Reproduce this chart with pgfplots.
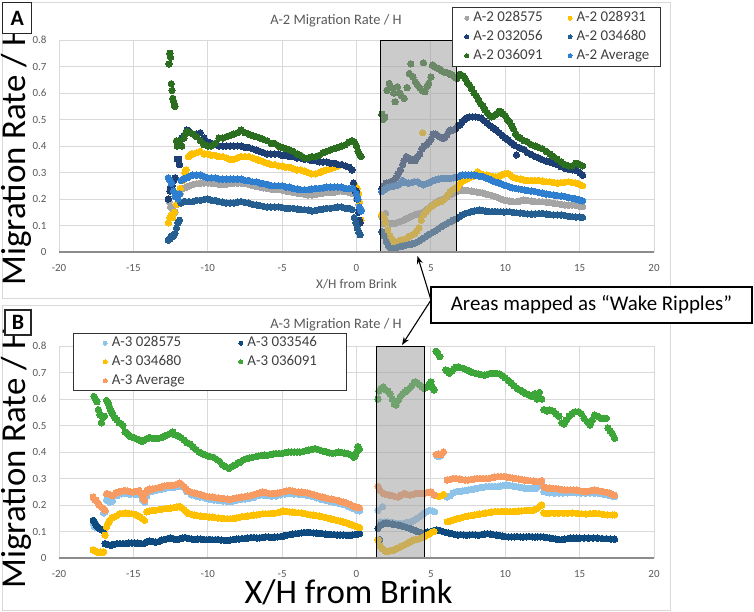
\documentclass[border=0pt]{standalone}
\usepackage{pgfplots}
\pgfplotsset{compat=1.18}
\usetikzlibrary{arrows.meta}
\usepackage{fontspec}
\setmainfont{Carlito}
\definecolor{tickgray}{HTML}{595959}
\definecolor{gridgray}{HTML}{D9D9D9}
\definecolor{legtext}{HTML}{404040}
\definecolor{cGray}{HTML}{A5A5A5}
\definecolor{cGold}{HTML}{FFC000}
\definecolor{cNavy}{HTML}{1E3F73}
\definecolor{cMed}{HTML}{255E91}
\definecolor{cGreen}{HTML}{2C6E20}
\definecolor{cAvg}{HTML}{2F7FD0}
\definecolor{dLt}{HTML}{8FC4EA}
\definecolor{dNavy}{HTML}{0D4A7F}
\definecolor{dGold}{HTML}{FFC000}
\definecolor{dGreen}{HTML}{3DA639}
\definecolor{dOrange}{HTML}{F79B62}
\definecolor{boxgray}{HTML}{A0A0A0}
\pgfplotsset{
  ser/.style={only marks, mark=*, mark size=3.2bp, color=#1, mark options={fill=#1, draw=#1, line width=0pt}},
  panel/.style={
    scale only axis, width=595bp, height=212bp,
    xmin=-20, xmax=20, ymin=0, ymax=0.8,
    xtick={-20,-15,-10,-5,0,5,10,15,20},
    ytick={0,0.1,0.2,0.3,0.4,0.5,0.6,0.7,0.8},
    grid=major, major grid style={draw=gridgray, line width=0.8bp},
    axis line style={draw=none}, major tick length=0pt, tick style={draw=none},
    clip=false, clip marker paths=true,
    ticklabel style={font=\fontsize{11}{13}\selectfont, text=tickgray},
    xticklabel style={anchor=north, text height=7bp, inner sep=0pt, yshift=-12bp},
    yticklabel style={anchor=east, inner sep=0pt, xshift=-12.3bp},
    /pgf/number format/assume math mode=true,
    legend cell align=left,
    legend columns=2,
    legend image code/.code={\path (-9bp,0bp); \draw[##1, mark size=2bp] plot coordinates {(0bp,0bp)};},
  },
}
\begin{document}
\begin{tikzpicture}
\useasboundingbox (0,0) rectangle (754bp,-612bp);
\draw[gridgray, line width=0.8bp] (2bp,-2.5bp) rectangle (670bp,-298bp);
\draw[gridgray, line width=0.8bp] (2bp,-305bp) rectangle (670bp,-610bp);

% ---------------- Panel A ----------------
\begin{axis}[panel, at={(59bp,-252bp)}, anchor=south west,
  legend style={at={(0.6605,1.157)}, anchor=north west, draw=black!80, line width=0.8bp, fill=white, text=legtext, font=\fontsize{15}{18}\selectfont, inner xsep=5bp, inner ysep=2bp, column sep=3bp, row sep=0.5bp, nodes={inner sep=1.5bp, text height=11.2bp, text depth=4bp}}]
% A-2 028575
\addplot[ser=cGray] coordinates {
(-12.6,0.19)(-12.5,0.17)(-12.35,0.16)(-12.2,0.15)(-12.05,0.18)(-11.85,0.22)(-11.65,0.24)(-11.4,0.245)(-11.25,0.25)(-11.0,0.255)(-10.75,0.258)(-10.5,0.26)(-10.25,0.26)(-10.0,0.26)(-9.75,0.26)(-9.5,0.258)(-9.25,0.255)(-9.0,0.255)(-8.75,0.255)(-8.5,0.258)(-8.25,0.26)(-8.0,0.26)(-7.75,0.26)(-7.5,0.258)(-7.25,0.255)(-7.0,0.25)(-6.75,0.248)(-6.5,0.245)(-6.25,0.242)(-6.0,0.24)(-5.75,0.237)(-5.5,0.235)(-5.25,0.235)(-5.0,0.233)(-4.75,0.23)(-4.5,0.228)(-4.25,0.225)(-4.0,0.222)(-3.75,0.22)(-3.5,0.218)(-3.25,0.215)(-3.0,0.215)(-2.75,0.217)(-2.5,0.22)(-2.25,0.222)(-2.0,0.225)(-1.75,0.225)(-1.5,0.225)(-1.25,0.228)(-1.0,0.23)(-0.75,0.228)(-0.5,0.225)(-0.25,0.22)(0.0,0.20)(0.15,0.18)(0.3,0.16)
(1.7,0.133)(1.8,0.108)(1.95,0.146)(2.1,0.11)(2.3,0.108)(2.5,0.108)(2.7,0.11)(2.9,0.114)(3.1,0.118)(3.3,0.124)(3.5,0.13)(3.7,0.135)(3.9,0.14)(4.1,0.143)(4.3,0.146)(4.5,0.152)(4.7,0.16)(4.9,0.168)(5.1,0.178)(5.3,0.186)(5.5,0.192)(5.7,0.197)(5.9,0.20)(6.1,0.208)(6.3,0.216)(6.5,0.222)(6.7,0.228)(6.9,0.232)(7.1,0.234)(7.3,0.233)(7.5,0.232)(7.7,0.23)(7.9,0.228)(8.1,0.226)(8.3,0.224)(8.5,0.222)(8.7,0.219)(8.9,0.216)(9.1,0.213)(9.3,0.21)(9.5,0.206)(9.7,0.2)(9.9,0.196)(10.1,0.194)(10.3,0.192)(10.5,0.19)(10.75,0.19)(11.0,0.193)(11.25,0.196)(11.5,0.194)(11.75,0.192)(12.0,0.19)(12.25,0.19)(12.5,0.19)(12.75,0.188)(13.0,0.186)(13.25,0.184)(13.5,0.182)(13.75,0.18)(14.0,0.177)(14.25,0.177)(14.5,0.177)(14.75,0.176)(15.0,0.173)(15.2,0.171)
};
\addlegendentry{\makebox[82.8bp][l]{A-2 028575}}
% A-2 028931
\addplot[ser=cGold] coordinates {
(-12.65,0.11)(-12.55,0.13)(-12.45,0.14)(-12.35,0.13)(-12.25,0.15)(-12.1,0.18)(-11.95,0.22)(-11.85,0.24)(-11.7,0.27)(-11.55,0.30)(-11.45,0.31)(-11.3,0.36)(-11.1,0.37)(-11.0,0.37)(-10.75,0.375)(-10.5,0.38)(-10.25,0.37)(-10.0,0.37)(-9.75,0.365)(-9.5,0.365)(-9.25,0.36)(-9.0,0.36)(-8.75,0.355)(-8.5,0.35)(-8.25,0.35)(-8.0,0.355)(-7.75,0.36)(-7.5,0.36)(-7.25,0.36)(-7.0,0.355)(-6.75,0.35)(-6.5,0.345)(-6.25,0.34)(-6.0,0.335)(-5.75,0.33)(-5.5,0.33)(-5.25,0.325)(-5.0,0.325)(-4.75,0.32)(-4.5,0.32)(-4.25,0.315)(-4.0,0.31)(-3.75,0.31)(-3.5,0.305)(-3.25,0.30)(-3.0,0.295)(-2.75,0.295)(-2.5,0.30)(-2.25,0.305)(-2.0,0.31)(-1.75,0.315)(-1.5,0.32)(-1.25,0.325)(-1.0,0.33)(-0.75,0.325)(-0.5,0.32)(-0.3,0.31)(-0.1,0.25)(0.05,0.24)(0.15,0.22)(0.2,0.19)(0.3,0.12)
(1.7,0.14)(1.85,0.13)(1.95,0.11)(2.1,0.083)(2.25,0.06)(2.4,0.045)(2.55,0.04)(2.7,0.033)(2.85,0.04)(3.0,0.045)(3.15,0.045)(3.3,0.05)(3.45,0.055)(3.6,0.06)(3.75,0.065)(3.9,0.07)(4.05,0.08)(4.2,0.09)(4.35,0.12)(4.45,0.45)(4.5,0.14)(4.65,0.15)(4.8,0.16)(4.95,0.168)(5.1,0.175)(5.25,0.18)(5.4,0.185)(5.55,0.188)(5.7,0.19)(5.85,0.197)(6.0,0.205)(6.15,0.215)(6.3,0.228)(6.45,0.235)(6.6,0.24)(6.75,0.242)(6.9,0.255)(7.05,0.265)(7.2,0.27)(7.4,0.275)(7.6,0.28)(7.8,0.285)(8.0,0.295)(8.15,0.303)(8.35,0.295)(8.55,0.29)(8.75,0.29)(8.95,0.287)(9.15,0.285)(9.35,0.284)(9.55,0.285)(9.75,0.29)(9.95,0.295)(10.15,0.297)(10.35,0.29)(10.55,0.282)(10.75,0.278)(11.0,0.275)(11.25,0.272)(11.5,0.27)(11.75,0.27)(12.0,0.27)(12.25,0.27)(12.5,0.268)(12.75,0.265)(13.0,0.265)(13.25,0.262)(13.5,0.26)(13.75,0.262)(14.0,0.263)(14.25,0.265)(14.5,0.262)(14.75,0.26)(15.0,0.255)(15.2,0.25)
};
\addlegendentry{\makebox[77bp][l]{A-2 028931}}
% A-2 032056
\addplot[ser=cNavy] coordinates {
(-12.65,0.20)(-12.55,0.23)(-12.5,0.245)(-12.4,0.25)(-12.3,0.27)(-12.2,0.28)(-12.05,0.35)(-11.95,0.35)(-11.9,0.33)(-11.75,0.43)(-11.6,0.44)(-11.4,0.46)(-11.25,0.455)(-11.0,0.445)(-10.75,0.445)(-10.5,0.45)(-10.25,0.43)(-10.0,0.415)(-9.75,0.41)(-9.5,0.405)(-9.25,0.40)(-9.0,0.40)(-8.75,0.40)(-8.5,0.40)(-8.25,0.40)(-8.0,0.40)(-7.75,0.40)(-7.5,0.395)(-7.25,0.395)(-7.0,0.39)(-6.75,0.385)(-6.5,0.38)(-6.25,0.375)(-6.0,0.37)(-5.75,0.37)(-5.5,0.37)(-5.25,0.37)(-5.0,0.365)(-4.75,0.365)(-4.5,0.36)(-4.25,0.36)(-4.0,0.355)(-3.75,0.355)(-3.5,0.35)(-3.25,0.35)(-3.0,0.345)(-2.75,0.345)(-2.5,0.34)(-2.25,0.34)(-2.0,0.34)(-1.75,0.335)(-1.5,0.335)(-1.25,0.33)(-1.0,0.33)(-0.75,0.325)(-0.5,0.32)(-0.3,0.31)(-0.2,0.26)(-0.1,0.23)(0.0,0.23)(0.05,0.20)(0.15,0.15)(0.2,0.12)(0.25,0.11)
(1.7,0.24)(1.85,0.25)(2.0,0.26)(2.15,0.255)(2.3,0.265)(2.5,0.27)(2.65,0.28)(2.8,0.295)(2.95,0.31)(3.1,0.33)(3.2,0.345)(3.35,0.36)(3.5,0.355)(3.65,0.345)(3.8,0.35)(3.95,0.345)(4.1,0.36)(4.25,0.37)(4.4,0.39)(4.55,0.40)(4.7,0.405)(4.85,0.415)(5.0,0.425)(5.15,0.445)(5.3,0.445)(5.45,0.44)(5.6,0.435)(5.75,0.43)(5.9,0.43)(6.05,0.44)(6.2,0.455)(6.35,0.46)(6.5,0.46)(6.65,0.465)(6.8,0.475)(6.95,0.48)(7.1,0.49)(7.25,0.50)(7.4,0.505)(7.6,0.51)(7.8,0.51)(8.0,0.51)(8.2,0.508)(8.4,0.505)(8.6,0.495)(8.8,0.486)(9.0,0.476)(9.2,0.468)(9.4,0.46)(9.6,0.45)(9.8,0.44)(10.0,0.43)(10.2,0.423)(10.4,0.413)(10.6,0.404)(10.75,0.366)(10.9,0.395)(11.1,0.39)(11.3,0.385)(11.5,0.375)(11.75,0.368)(12.0,0.36)(12.25,0.355)(12.5,0.348)(12.75,0.343)(13.0,0.34)(13.25,0.335)(13.5,0.33)(13.75,0.322)(14.0,0.316)(14.25,0.313)(14.5,0.31)(14.75,0.308)(15.0,0.30)(15.2,0.29)
};
\addlegendentry{\makebox[82.8bp][l]{A-2 032056}}
% A-2 034680
\addplot[ser=cMed] coordinates {
(-12.65,0.045)(-12.55,0.05)(-12.45,0.06)(-12.3,0.06)(-12.2,0.07)(-12.1,0.09)(-12.0,0.11)(-11.9,0.12)(-11.8,0.185)(-11.6,0.19)(-11.5,0.19)(-11.25,0.19)(-11.0,0.19)(-10.75,0.195)(-10.5,0.195)(-10.25,0.198)(-10.0,0.20)(-9.75,0.195)(-9.5,0.195)(-9.25,0.19)(-9.0,0.188)(-8.75,0.185)(-8.5,0.185)(-8.25,0.185)(-8.0,0.188)(-7.75,0.19)(-7.5,0.187)(-7.25,0.185)(-7.0,0.18)(-6.75,0.178)(-6.5,0.175)(-6.25,0.172)(-6.0,0.17)(-5.75,0.17)(-5.5,0.17)(-5.25,0.17)(-5.0,0.168)(-4.75,0.165)(-4.5,0.165)(-4.25,0.165)(-4.0,0.162)(-3.75,0.16)(-3.5,0.16)(-3.25,0.158)(-3.0,0.155)(-2.75,0.157)(-2.5,0.16)(-2.25,0.162)(-2.0,0.165)(-1.75,0.165)(-1.5,0.167)(-1.25,0.17)(-1.0,0.17)(-0.75,0.165)(-0.5,0.165)(-0.3,0.16)(-0.15,0.13)(-0.05,0.11)(0.05,0.09)(0.15,0.075)(0.25,0.065)
(1.7,0.077)(1.85,0.06)(2.0,0.04)(2.15,0.022)(2.3,0.016)(2.5,0.014)(2.7,0.016)(2.9,0.02)(3.1,0.022)(3.3,0.025)(3.5,0.028)(3.7,0.03)(3.9,0.033)(4.1,0.038)(4.3,0.045)(4.5,0.052)(4.7,0.06)(4.9,0.067)(5.1,0.074)(5.3,0.08)(5.5,0.088)(5.7,0.096)(5.9,0.102)(6.1,0.108)(6.3,0.114)(6.5,0.12)(6.7,0.125)(6.9,0.132)(7.1,0.14)(7.3,0.145)(7.5,0.148)(7.7,0.152)(7.9,0.155)(8.1,0.157)(8.3,0.158)(8.5,0.156)(8.7,0.154)(8.9,0.152)(9.1,0.152)(9.3,0.153)(9.5,0.152)(9.7,0.152)(9.9,0.151)(10.1,0.152)(10.3,0.152)(10.5,0.15)(10.75,0.148)(11.0,0.147)(11.25,0.146)(11.5,0.144)(11.75,0.143)(12.0,0.144)(12.25,0.145)(12.5,0.146)(12.75,0.143)(13.0,0.141)(13.25,0.14)(13.5,0.14)(13.75,0.14)(14.0,0.138)(14.25,0.135)(14.5,0.133)(14.75,0.132)(15.0,0.132)(15.2,0.131)
};
\addlegendentry{\makebox[77bp][l]{A-2 034680}}
% A-2 036091
\addplot[ser=cGreen] coordinates {
(-12.6,0.71)(-12.55,0.75)(-12.5,0.735)(-12.45,0.635)(-12.4,0.61)(-12.35,0.58)(-12.3,0.57)(-12.25,0.555)(-12.2,0.55)
(-12.1,0.42)(-12.05,0.40)(-12.0,0.41)(-11.9,0.42)(-11.75,0.40)(-11.6,0.43)(-11.5,0.445)(-11.4,0.455)(-11.25,0.45)(-11.0,0.445)(-10.75,0.435)(-10.5,0.42)(-10.25,0.405)(-10.0,0.40)(-9.75,0.40)(-9.5,0.41)(-9.25,0.43)(-9.0,0.43)(-8.75,0.435)(-8.5,0.44)(-8.25,0.445)(-8.0,0.45)(-7.75,0.46)(-7.5,0.45)(-7.25,0.445)(-7.0,0.44)(-6.75,0.435)(-6.5,0.43)(-6.25,0.425)(-6.0,0.42)(-5.75,0.41)(-5.5,0.41)(-5.25,0.40)(-5.0,0.395)(-4.75,0.39)(-4.5,0.385)(-4.25,0.38)(-4.0,0.37)(-3.75,0.365)(-3.5,0.355)(-3.25,0.355)(-3.0,0.36)(-2.75,0.36)(-2.5,0.365)(-2.25,0.375)(-2.0,0.38)(-1.75,0.385)(-1.5,0.39)(-1.25,0.395)(-1.0,0.40)(-0.75,0.405)(-0.5,0.415)(-0.3,0.42)(-0.15,0.415)(0.0,0.40)(0.1,0.38)(0.2,0.37)(0.3,0.36)
(1.7,0.52)(1.8,0.50)(1.9,0.51)(2.05,0.61)(2.2,0.636)(2.35,0.62)(2.5,0.60)(2.6,0.567)(2.75,0.624)(2.9,0.60)(3.0,0.59)(3.2,0.58)(3.4,0.62)(3.55,0.674)(3.65,0.71)(3.8,0.66)(3.95,0.643)(4.1,0.63)(4.25,0.62)(4.4,0.61)(4.5,0.714)(4.6,0.605)(4.75,0.625)(4.85,0.636)(5.0,0.66)(5.1,0.705)(5.25,0.70)(5.4,0.695)(5.55,0.69)(5.7,0.685)(5.85,0.68)(6.0,0.678)(6.15,0.675)(6.3,0.67)(6.45,0.668)(6.6,0.66)(6.75,0.655)(6.9,0.67)(7.0,0.67)(7.15,0.665)(7.3,0.655)(7.45,0.64)(7.6,0.63)(7.75,0.615)(7.9,0.60)(8.05,0.59)(8.2,0.575)(8.35,0.56)(8.5,0.55)(8.65,0.535)(8.8,0.525)(8.95,0.515)(9.1,0.51)(9.25,0.515)(9.4,0.52)(9.55,0.53)(9.7,0.53)(9.85,0.52)(10.0,0.515)(10.15,0.50)(10.3,0.49)(10.45,0.475)(10.55,0.465)(10.7,0.445)(10.85,0.435)(11.0,0.43)(11.25,0.42)(11.5,0.415)(11.75,0.405)(12.0,0.40)(12.25,0.395)(12.5,0.39)(12.75,0.38)(13.0,0.37)(13.25,0.36)(13.5,0.35)(13.75,0.34)(14.0,0.33)(14.25,0.325)(14.5,0.325)(14.75,0.335)(15.0,0.33)(15.2,0.325)
};
\addlegendentry{\makebox[82.8bp][l]{A-2 036091}}
% A-2 Average
\addplot[ser=cAvg] coordinates {
(-12.65,0.28)(-12.55,0.27)(-12.45,0.26)(-12.3,0.23)(-12.2,0.21)(-12.0,0.20)(-11.9,0.22)(-11.8,0.27)(-11.6,0.275)(-11.4,0.28)(-11.25,0.285)(-11.0,0.29)(-10.75,0.29)(-10.5,0.29)(-10.25,0.285)(-10.0,0.28)(-9.75,0.28)(-9.5,0.28)(-9.25,0.275)(-9.0,0.275)(-8.75,0.275)(-8.5,0.275)(-8.25,0.275)(-8.0,0.275)(-7.75,0.275)(-7.5,0.27)(-7.25,0.27)(-7.0,0.265)(-6.75,0.265)(-6.5,0.26)(-6.25,0.258)(-6.0,0.255)(-5.75,0.25)(-5.5,0.25)(-5.25,0.25)(-5.0,0.25)(-4.75,0.245)(-4.5,0.245)(-4.25,0.24)(-4.0,0.238)(-3.75,0.235)(-3.5,0.235)(-3.25,0.235)(-3.0,0.238)(-2.75,0.24)(-2.5,0.24)(-2.25,0.242)(-2.0,0.245)(-1.75,0.245)(-1.5,0.245)(-1.25,0.245)(-1.0,0.245)(-0.75,0.24)(-0.5,0.24)(-0.25,0.24)(0.0,0.22)(0.1,0.20)(0.2,0.17)(0.3,0.155)
(1.7,0.228)(1.85,0.235)(2.0,0.24)(2.2,0.245)(2.4,0.247)(2.6,0.25)(2.8,0.253)(2.95,0.26)(3.1,0.27)(3.3,0.262)(3.5,0.26)(3.7,0.262)(3.9,0.265)(4.1,0.265)(4.3,0.258)(4.5,0.253)(4.7,0.258)(4.9,0.262)(5.1,0.268)(5.3,0.272)(5.5,0.275)(5.7,0.278)(5.9,0.278)(6.1,0.278)(6.3,0.278)(6.5,0.28)(6.7,0.282)(6.9,0.285)(7.1,0.29)(7.3,0.29)(7.5,0.29)(7.7,0.29)(7.9,0.29)(8.1,0.288)(8.3,0.286)(8.5,0.284)(8.7,0.28)(8.9,0.275)(9.1,0.27)(9.3,0.265)(9.5,0.262)(9.7,0.258)(9.9,0.253)(10.1,0.25)(10.3,0.245)(10.5,0.242)(10.7,0.24)(10.9,0.238)(11.1,0.236)(11.3,0.234)(11.5,0.232)(11.75,0.23)(12.0,0.228)(12.25,0.225)(12.5,0.222)(12.75,0.219)(13.0,0.217)(13.25,0.215)(13.5,0.213)(13.75,0.211)(14.0,0.21)(14.25,0.206)(14.5,0.203)(14.75,0.20)(15.0,0.196)(15.2,0.193)
};
\addlegendentry{\makebox[77bp][l]{A-2 Average}}
\draw[black, line width=1bp, fill=boxgray, fill opacity=0.55] (axis cs:1.62,0) rectangle (axis cs:6.73,0.8);
\end{axis}
\draw[black!45, line width=1.2bp] (59bp,-252bp) -- (654bp,-252bp);

% ---------------- Panel B ----------------
\begin{axis}[panel, at={(59bp,-558bp)}, anchor=south west,
  legend style={at={(0.024,1.06)}, anchor=north west, draw=black!80, line width=0.8bp, fill=white, text=legtext, font=\fontsize{15}{18}\selectfont, inner xsep=22.2bp, inner ysep=0.5bp, column sep=3bp, row sep=0.5bp, nodes={inner sep=1.5bp, text height=11.2bp, text depth=4bp}}]
% A-3 028575
\addplot[ser=dLt] coordinates {
(-17.7,0.13)(-17.6,0.117)(-17.5,0.125)(-17.0,0.17)(-16.9,0.174)(-16.8,0.218)(-16.6,0.211)(-16.4,0.215)(-16.1,0.235)(-15.8,0.242)(-15.5,0.243)(-15.2,0.24)(-14.9,0.24)(-14.6,0.24)(-14.4,0.22)(-14.25,0.21)(-14.1,0.235)(-13.8,0.25)(-13.5,0.254)(-13.2,0.258)(-12.9,0.262)(-12.6,0.265)(-12.3,0.265)(-12.0,0.27)(-11.7,0.268)(-11.4,0.25)(-11.1,0.238)(-10.8,0.234)(-10.5,0.23)(-10.2,0.226)(-9.9,0.222)(-9.6,0.219)(-9.3,0.217)(-9.0,0.215)(-8.7,0.213)(-8.4,0.213)(-8.1,0.217)(-7.8,0.22)(-7.5,0.222)(-7.2,0.226)(-6.9,0.229)(-6.6,0.235)(-6.3,0.238)(-6.0,0.235)(-5.7,0.233)(-5.4,0.234)(-5.1,0.238)(-4.8,0.242)(-4.5,0.245)(-4.2,0.242)(-3.9,0.24)(-3.6,0.239)(-3.3,0.236)(-3.0,0.232)(-2.7,0.227)(-2.4,0.222)(-2.1,0.218)(-1.8,0.214)(-1.5,0.21)(-1.2,0.207)(-0.9,0.202)(-0.6,0.196)(-0.3,0.188)(0.0,0.18)(0.2,0.178)
(1.45,0.18)(1.6,0.137)(1.75,0.194)(1.9,0.137)(2.1,0.137)(2.3,0.135)(2.5,0.132)(2.7,0.13)(2.9,0.13)(3.1,0.13)(3.3,0.132)(3.5,0.135)(3.7,0.138)(3.9,0.143)(4.1,0.15)(4.3,0.158)(4.5,0.168)(4.7,0.175)(4.9,0.18)(5.1,0.178)(5.25,0.175)(5.4,0.385)(5.6,0.384)(6.1,0.23)(6.3,0.235)(6.5,0.245)(6.7,0.25)(6.9,0.252)(7.1,0.253)(7.3,0.255)(7.5,0.257)(7.7,0.259)(7.9,0.261)(8.1,0.263)(8.3,0.265)(8.5,0.267)(8.7,0.269)(8.9,0.27)(9.1,0.27)(9.3,0.27)(9.5,0.27)(9.7,0.272)(9.9,0.274)(10.1,0.275)(10.3,0.274)(10.5,0.272)(10.7,0.27)(10.9,0.268)(11.1,0.266)(11.3,0.264)(11.5,0.263)(11.7,0.263)(11.9,0.263)(12.1,0.264)(12.3,0.275)(12.45,0.282)(12.6,0.25)(12.8,0.248)(13.0,0.246)(13.3,0.245)(13.6,0.245)(13.9,0.245)(14.2,0.246)(14.5,0.247)(14.8,0.246)(15.1,0.245)(15.4,0.245)(15.7,0.245)(16.0,0.245)(16.3,0.243)(16.6,0.241)(16.9,0.238)(17.2,0.234)(17.35,0.232)
};
\addlegendentry{\makebox[115.3bp][l]{A-3 028575}}
% A-3 033546
\addplot[ser=dNavy] coordinates {
(-17.7,0.142)(-17.6,0.135)(-17.5,0.123)(-17.4,0.118)(-17.3,0.111)(-17.2,0.108)(-17.1,0.105)(-17.0,0.104)(-16.9,0.054)(-16.7,0.05)(-16.5,0.048)(-16.3,0.052)(-16.1,0.054)(-15.9,0.054)(-15.7,0.054)(-15.5,0.055)(-15.3,0.057)(-15.1,0.057)(-14.9,0.057)(-14.7,0.056)(-14.5,0.055)(-14.3,0.054)(-14.1,0.06)(-13.9,0.064)(-13.7,0.062)(-13.5,0.06)(-13.3,0.062)(-13.1,0.068)(-12.9,0.07)(-12.7,0.073)(-12.5,0.075)(-12.3,0.072)(-12.1,0.069)(-11.9,0.072)(-11.7,0.075)(-11.5,0.077)(-11.3,0.074)(-11.1,0.072)(-10.9,0.07)(-10.7,0.071)(-10.5,0.072)(-10.3,0.07)(-10.1,0.069)(-9.9,0.07)(-9.7,0.069)(-9.5,0.069)(-9.3,0.07)(-9.1,0.068)(-8.9,0.067)(-8.7,0.066)(-8.5,0.068)(-8.3,0.069)(-8.1,0.071)(-7.9,0.072)(-7.7,0.073)(-7.5,0.074)(-7.3,0.075)(-7.1,0.077)(-6.9,0.077)(-6.7,0.076)(-6.5,0.076)(-6.3,0.078)(-6.1,0.08)(-5.9,0.079)(-5.7,0.078)(-5.5,0.079)(-5.3,0.08)(-5.1,0.081)(-4.9,0.083)(-4.7,0.086)(-4.5,0.088)(-4.3,0.09)(-4.1,0.092)(-3.9,0.093)(-3.7,0.095)(-3.5,0.096)(-3.3,0.097)(-3.1,0.096)(-2.9,0.095)(-2.7,0.094)(-2.5,0.093)(-2.3,0.092)(-2.1,0.09)(-1.9,0.089)(-1.7,0.088)(-1.5,0.088)(-1.3,0.087)(-1.1,0.087)(-0.9,0.087)(-0.7,0.086)(-0.5,0.086)(-0.3,0.087)(-0.1,0.088)(0.1,0.09)(0.2,0.092)
(1.45,0.112)(1.55,0.07)(1.65,0.125)(1.8,0.13)(2.0,0.132)(2.2,0.13)(2.4,0.128)(2.6,0.126)(2.8,0.125)(3.0,0.122)(3.2,0.118)(3.4,0.115)(3.6,0.112)(3.8,0.107)(4.0,0.102)(4.2,0.098)(4.4,0.094)(4.6,0.095)(4.8,0.098)(5.0,0.10)(5.2,0.104)(5.4,0.106)(5.6,0.104)(5.8,0.10)(6.0,0.097)(6.2,0.094)(6.4,0.092)(6.6,0.089)(6.8,0.087)(7.0,0.088)(7.2,0.087)(7.4,0.086)(7.6,0.087)(7.8,0.088)(8.0,0.087)(8.2,0.086)(8.4,0.088)(8.6,0.09)(8.8,0.092)(9.0,0.09)(9.2,0.088)(9.4,0.087)(9.6,0.085)(9.8,0.083)(10.0,0.081)(10.2,0.08)(10.4,0.08)(10.6,0.08)(10.8,0.081)(11.0,0.08)(11.2,0.079)(11.4,0.08)(11.6,0.081)(11.8,0.08)(12.0,0.079)(12.2,0.08)(12.4,0.08)(12.6,0.079)(12.8,0.077)(13.0,0.075)(13.2,0.074)(13.4,0.072)(13.6,0.07)(13.8,0.069)(14.0,0.071)(14.2,0.073)(14.4,0.075)(14.6,0.075)(14.8,0.075)(15.0,0.075)(15.3,0.075)(15.6,0.075)(15.9,0.075)(16.2,0.075)(16.5,0.074)(16.8,0.073)(17.1,0.072)(17.35,0.071)
};
\addlegendentry{\makebox[75bp][l]{A-3 033546}}
% A-3 034680
\addplot[ser=dGold] coordinates {
(-17.7,0.031)(-17.6,0.027)(-17.5,0.025)(-17.4,0.022)(-17.3,0.02)(-17.2,0.022)(-17.1,0.02)(-17.0,0.024)(-16.9,0.086)(-16.8,0.117)(-16.7,0.13)(-16.6,0.142)(-16.45,0.15)(-16.3,0.155)(-16.1,0.16)(-15.9,0.167)(-15.7,0.168)(-15.5,0.17)(-15.3,0.168)(-15.1,0.167)(-14.9,0.165)(-14.7,0.16)(-14.55,0.155)(-14.4,0.148)(-14.25,0.142)(-14.1,0.174)(-13.9,0.178)(-13.7,0.18)(-13.5,0.18)(-13.3,0.182)(-13.1,0.184)(-12.9,0.186)(-12.7,0.187)(-12.5,0.188)(-12.3,0.19)(-12.1,0.192)(-11.9,0.195)(-11.75,0.19)(-11.6,0.183)(-11.45,0.175)(-11.3,0.168)(-11.1,0.165)(-10.9,0.162)(-10.7,0.16)(-10.5,0.158)(-10.3,0.157)(-10.1,0.156)(-9.9,0.155)(-9.7,0.154)(-9.5,0.152)(-9.3,0.151)(-9.1,0.15)(-8.9,0.148)(-8.7,0.148)(-8.5,0.148)(-8.3,0.149)(-8.1,0.151)(-7.9,0.153)(-7.7,0.156)(-7.5,0.157)(-7.3,0.159)(-7.1,0.16)(-6.9,0.162)(-6.7,0.163)(-6.5,0.165)(-6.3,0.167)(-6.1,0.167)(-5.9,0.167)(-5.7,0.168)(-5.5,0.169)(-5.3,0.171)(-5.1,0.174)(-4.9,0.177)(-4.7,0.176)(-4.5,0.174)(-4.3,0.173)(-4.1,0.171)(-3.9,0.171)(-3.7,0.17)(-3.5,0.168)(-3.3,0.165)(-3.1,0.163)(-2.9,0.162)(-2.7,0.16)(-2.5,0.158)(-2.3,0.156)(-2.1,0.153)(-1.9,0.15)(-1.7,0.147)(-1.5,0.145)(-1.3,0.142)(-1.1,0.139)(-0.9,0.136)(-0.7,0.133)(-0.5,0.128)(-0.3,0.124)(-0.1,0.12)(0.1,0.117)(0.2,0.115)
(1.45,0.068)(1.6,0.045)(1.75,0.036)(1.9,0.028)(2.05,0.024)(2.2,0.026)(2.35,0.028)(2.5,0.03)(2.65,0.034)(2.8,0.038)(2.95,0.043)(3.1,0.047)(3.25,0.051)(3.4,0.055)(3.55,0.06)(3.7,0.064)(3.85,0.068)(4.0,0.07)(4.15,0.072)(4.3,0.074)(4.45,0.078)(4.6,0.082)(4.75,0.087)(4.9,0.092)(5.05,0.097)(5.2,0.10)(5.4,0.235)(5.55,0.232)(5.7,0.235)(5.85,0.24)(6.1,0.137)(6.3,0.14)(6.5,0.143)(6.7,0.147)(6.9,0.15)(7.1,0.153)(7.3,0.156)(7.5,0.158)(7.7,0.16)(7.9,0.162)(8.1,0.164)(8.3,0.166)(8.5,0.168)(8.7,0.17)(8.9,0.172)(9.1,0.174)(9.3,0.175)(9.5,0.175)(9.7,0.175)(9.9,0.176)(10.1,0.175)(10.3,0.175)(10.5,0.175)(10.7,0.176)(10.9,0.177)(11.1,0.178)(11.3,0.179)(11.5,0.18)(11.7,0.18)(11.9,0.181)(12.1,0.185)(12.3,0.195)(12.45,0.20)(12.6,0.17)(12.8,0.169)(13.0,0.169)(13.3,0.169)(13.6,0.169)(13.9,0.169)(14.2,0.169)(14.5,0.17)(14.8,0.169)(15.1,0.167)(15.4,0.166)(15.7,0.167)(16.0,0.169)(16.3,0.167)(16.6,0.164)(16.9,0.163)(17.2,0.163)(17.35,0.163)
};
\addlegendentry{\makebox[115.3bp][l]{A-3 034680}}
% A-3 036091
\addplot[ser=dGreen] coordinates {
(-17.65,0.61)(-17.55,0.60)(-17.45,0.59)(-17.35,0.56)(-17.25,0.54)(-17.15,0.51)(-17.05,0.53)(-16.95,0.535)(-16.8,0.595)(-16.7,0.585)(-16.6,0.57)(-16.5,0.555)(-16.4,0.545)(-16.25,0.53)(-16.1,0.52)(-15.95,0.51)(-15.8,0.505)(-15.7,0.50)(-15.55,0.475)(-15.4,0.47)(-15.25,0.46)(-15.1,0.457)(-14.95,0.455)(-14.8,0.45)(-14.6,0.445)(-14.4,0.44)(-14.25,0.445)(-14.1,0.45)(-13.9,0.455)(-13.7,0.452)(-13.5,0.45)(-13.3,0.452)(-13.1,0.455)(-12.9,0.46)(-12.7,0.465)(-12.5,0.47)(-12.35,0.475)(-12.2,0.465)(-12.0,0.46)(-11.8,0.455)(-11.6,0.445)(-11.4,0.435)(-11.2,0.43)(-11.0,0.42)(-10.8,0.41)(-10.6,0.40)(-10.4,0.395)(-10.2,0.39)(-10.0,0.385)(-9.8,0.382)(-9.6,0.38)(-9.4,0.372)(-9.2,0.365)(-9.0,0.352)(-8.8,0.345)(-8.6,0.338)(-8.4,0.345)(-8.2,0.35)(-8.0,0.358)(-7.8,0.362)(-7.6,0.37)(-7.4,0.375)(-7.2,0.378)(-7.0,0.38)(-6.8,0.382)(-6.6,0.385)(-6.4,0.387)(-6.2,0.388)(-6.0,0.387)(-5.8,0.39)(-5.6,0.393)(-5.4,0.394)(-5.2,0.394)(-5.0,0.395)(-4.8,0.398)(-4.6,0.40)(-4.4,0.40)(-4.2,0.40)(-4.0,0.40)(-3.8,0.40)(-3.6,0.402)(-3.4,0.405)(-3.2,0.407)(-3.0,0.41)(-2.8,0.413)(-2.6,0.41)(-2.4,0.406)(-2.2,0.403)(-2.0,0.40)(-1.8,0.397)(-1.6,0.395)(-1.4,0.397)(-1.2,0.40)(-1.0,0.398)(-0.8,0.396)(-0.6,0.394)(-0.4,0.39)(-0.2,0.38)(-0.1,0.385)(0.0,0.40)(0.1,0.42)(0.2,0.41)
(1.45,0.60)(1.5,0.63)(1.65,0.64)(1.8,0.646)(1.95,0.635)(2.1,0.63)(2.25,0.62)(2.4,0.60)(2.55,0.58)(2.65,0.577)(2.8,0.595)(2.95,0.61)(3.1,0.62)(3.25,0.627)(3.4,0.633)(3.55,0.64)(3.7,0.65)(3.85,0.66)(3.95,0.665)(4.1,0.66)(4.25,0.653)(4.4,0.645)(4.55,0.64)(4.7,0.645)(4.85,0.655)(5.0,0.665)(5.1,0.645)(5.2,0.634)(5.35,0.78)(5.45,0.775)(5.6,0.76)(6.0,0.71)(6.1,0.705)(6.25,0.697)(6.4,0.705)(6.55,0.715)(6.7,0.72)(6.85,0.722)(7.0,0.718)(7.2,0.716)(7.4,0.71)(7.6,0.705)(7.8,0.70)(8.0,0.697)(8.2,0.695)(8.4,0.692)(8.6,0.69)(8.8,0.693)(9.0,0.697)(9.2,0.697)(9.4,0.697)(9.6,0.695)(9.8,0.688)(10.0,0.68)(10.2,0.67)(10.4,0.66)(10.6,0.65)(10.8,0.64)(11.0,0.633)(11.2,0.627)(11.4,0.62)(11.6,0.615)(11.8,0.61)(12.0,0.62)(12.15,0.60)(12.3,0.625)(12.45,0.60)(12.6,0.56)(12.8,0.555)(13.0,0.558)(13.2,0.555)(13.4,0.545)(13.6,0.535)(13.8,0.51)(13.95,0.505)(14.1,0.52)(14.3,0.535)(14.5,0.545)(14.7,0.552)(14.9,0.552)(15.1,0.545)(15.3,0.527)(15.5,0.515)(15.7,0.502)(15.85,0.52)(16.0,0.54)(16.2,0.535)(16.4,0.528)(16.6,0.527)(16.8,0.527)(16.9,0.49)(17.05,0.48)(17.2,0.47)(17.35,0.452)
};
\addlegendentry{\makebox[75bp][l]{A-3 036091}}
% A-3 Average
\addplot[ser=dOrange] coordinates {
(-17.7,0.23)(-17.6,0.22)(-17.5,0.218)(-17.4,0.21)(-17.3,0.20)(-17.2,0.195)(-17.1,0.19)(-17.0,0.186)(-16.9,0.18)(-16.8,0.243)(-16.6,0.24)(-16.4,0.236)(-16.2,0.245)(-16.0,0.249)(-15.8,0.252)(-15.6,0.255)(-15.4,0.253)(-15.2,0.25)(-15.0,0.249)(-14.8,0.252)(-14.6,0.255)(-14.45,0.24)(-14.35,0.225)(-14.25,0.218)(-14.15,0.245)(-14.05,0.258)(-13.9,0.26)(-13.7,0.26)(-13.5,0.263)(-13.3,0.266)(-13.1,0.268)(-12.9,0.272)(-12.7,0.274)(-12.5,0.274)(-12.3,0.274)(-12.1,0.278)(-11.9,0.283)(-11.75,0.278)(-11.6,0.27)(-11.45,0.26)(-11.3,0.252)(-11.1,0.248)(-10.9,0.245)(-10.7,0.243)(-10.5,0.24)(-10.3,0.236)(-10.1,0.233)(-9.9,0.231)(-9.7,0.23)(-9.5,0.228)(-9.3,0.227)(-9.1,0.225)(-8.9,0.224)(-8.7,0.222)(-8.5,0.221)(-8.3,0.224)(-8.1,0.227)(-7.9,0.228)(-7.7,0.23)(-7.5,0.232)(-7.3,0.234)(-7.1,0.236)(-6.9,0.239)(-6.7,0.243)(-6.5,0.246)(-6.3,0.249)(-6.1,0.247)(-5.9,0.244)(-5.7,0.243)(-5.5,0.244)(-5.3,0.245)(-5.1,0.248)(-4.9,0.25)(-4.7,0.253)(-4.5,0.255)(-4.3,0.253)(-4.1,0.25)(-3.9,0.249)(-3.7,0.249)(-3.5,0.248)(-3.3,0.246)(-3.1,0.243)(-2.9,0.24)(-2.7,0.236)(-2.5,0.233)(-2.3,0.23)(-2.1,0.227)(-1.9,0.224)(-1.7,0.222)(-1.5,0.22)(-1.3,0.218)(-1.1,0.214)(-0.9,0.211)(-0.7,0.207)(-0.5,0.203)(-0.3,0.198)(-0.1,0.193)(0.1,0.19)(0.2,0.19)
(1.45,0.27)(1.6,0.255)(1.8,0.244)(2.0,0.24)(2.2,0.238)(2.4,0.236)(2.6,0.232)(2.8,0.23)(3.0,0.237)(3.2,0.244)(3.4,0.24)(3.6,0.238)(3.8,0.24)(4.0,0.244)(4.2,0.244)(4.4,0.244)(4.6,0.245)(4.8,0.248)(5.0,0.25)(5.2,0.238)(5.35,0.39)(5.5,0.392)(5.7,0.39)(5.85,0.40)(6.1,0.294)(6.3,0.297)(6.5,0.30)(6.7,0.30)(6.9,0.298)(7.1,0.296)(7.3,0.294)(7.5,0.294)(7.7,0.296)(7.9,0.298)(8.1,0.30)(8.3,0.30)(8.5,0.30)(8.7,0.30)(8.9,0.30)(9.1,0.303)(9.3,0.305)(9.5,0.307)(9.7,0.307)(9.9,0.307)(10.1,0.306)(10.3,0.304)(10.5,0.302)(10.7,0.30)(10.9,0.298)(11.1,0.296)(11.3,0.294)(11.5,0.293)(11.7,0.292)(11.9,0.29)(12.1,0.288)(12.3,0.289)(12.45,0.292)(12.6,0.268)(12.8,0.264)(13.0,0.264)(13.2,0.263)(13.4,0.262)(13.6,0.26)(13.8,0.258)(14.0,0.257)(14.2,0.257)(14.4,0.257)(14.6,0.257)(14.8,0.256)(15.0,0.254)(15.2,0.252)(15.4,0.25)(15.6,0.252)(15.8,0.255)(16.0,0.257)(16.2,0.255)(16.4,0.252)(16.6,0.25)(16.8,0.248)(17.0,0.245)(17.2,0.24)(17.35,0.237)
};
\addlegendentry{\makebox[115.3bp][l]{A-3 Average}}
\draw[black, line width=1bp, fill=boxgray, fill opacity=0.55] (axis cs:1.35,0) rectangle (axis cs:4.58,0.8);
\end{axis}
\draw[black!45, line width=1.2bp] (59bp,-558bp) -- (654bp,-558bp);

% ---------------- Texts ----------------
\node[anchor=base, font=\fontsize{14.5}{17}\selectfont, text=tickgray] at (336bp,-24bp) {A-2 Migration Rate / H};
\node[anchor=base, font=\fontsize{14.5}{17}\selectfont, text=tickgray] at (336bp,-328.5bp) {A-3 Migration Rate / H};
\node[anchor=base, font=\fontsize{13.4}{16}\selectfont, text=tickgray] at (356.5bp,-288.5bp) {X/H from Brink};
\node[anchor=base, inner sep=0pt, font=\fontsize{34.5}{38}\selectfont] at (348.5bp,-603.5bp) {X/H from Brink};
\node[anchor=base, rotate=90, font=\fontsize{35}{40}\selectfont] at (25bp,-155bp) {Migration Rate / H};
\node[anchor=base, rotate=90, font=\fontsize{35}{40}\selectfont] at (25bp,-458bp) {Migration Rate / H};
\node[draw=black!85, line width=1.5bp, fill=white, minimum width=29bp, minimum height=30.6bp, inner sep=0pt, font=\bfseries\fontsize{22}{24}\selectfont] at (17.2bp,-18bp) {A};
\node[draw=black!85, line width=1.5bp, fill=white, minimum width=25.7bp, minimum height=25bp, inner sep=0pt, font=\bfseries\fontsize{22}{24}\selectfont] at (17.9bp,-322.5bp) {B};

\draw[-{Stealth[length=8bp,width=6bp]}, line width=1.1bp] (431bp,-300bp) -- (417.5bp,-256bp);
\draw[-{Stealth[length=8bp,width=6bp]}, line width=1.1bp] (431bp,-300bp) -- (402bp,-345bp);
\node[draw=black, line width=1.2bp, fill=white, minimum width=321bp, minimum height=36bp, inner sep=0pt, font=\fontsize{21}{24}\selectfont] at (591.5bp,-305bp) {Areas mapped as “Wake Ripples”};
\end{tikzpicture}
\end{document}
